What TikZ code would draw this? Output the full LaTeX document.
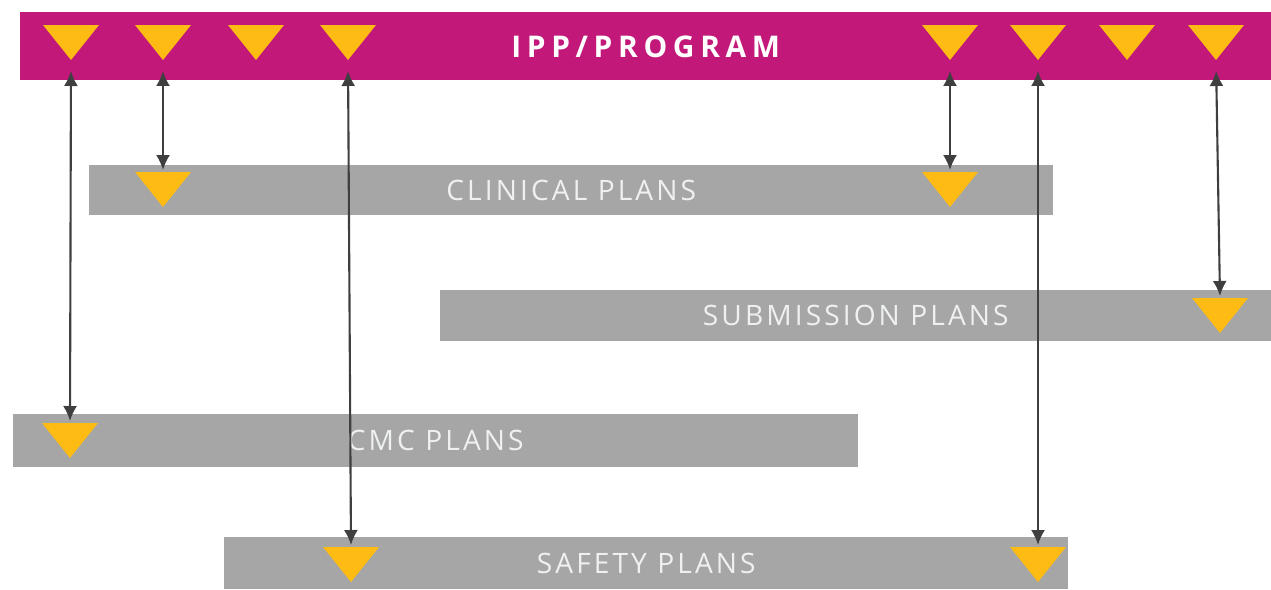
\documentclass[tikz,border=0pt]{standalone}
\usepackage{fontspec}
\setmainfont{Open Sans}
\newfontfamily\planfont[LetterSpace=11]{Open Sans}
\newfontfamily\programfont[LetterSpace=19]{Open Sans}
\usetikzlibrary{arrows.meta}

\definecolor{ippmagenta}{HTML}{C2187A}
\definecolor{markeryellow}{HTML}{FDBB13}
\definecolor{plangray}{HTML}{A6A6A6}
\definecolor{linkgray}{HTML}{3F3F3F}
\definecolor{plantext}{HTML}{EEF0F2}

\tikzset{
	bar/.style={anchor=north west, inner sep=0pt, fill=plangray, text=plantext,
		font=\planfont\fontsize{16}{16}\selectfont},
	marker/.style={fill=markeryellow},
	link/.style={linkgray, line width=1.2pt, <->, >={Latex[length=3mm,width=2.8mm]},
		shorten <=0.22cm, shorten >=0.04cm}
}

\begin{document}
\begin{tikzpicture}[x=0.02cm, y=-0.02cm]
	\useasboundingbox (0,0) rectangle (1271,589);

	% bars
	\node [bar, fill=ippmagenta, text=white, font=\programfont\bfseries\fontsize{17}{17}\selectfont,
		minimum width=25.02cm, minimum height=1.36cm] (ipp) at (20,12) {IPP/PROGRAM};
	\node [bar, minimum width=19.28cm, minimum height=1.0cm] (clinical) at (89,165) {CLINICAL PLANS};
	\node [bar, minimum width=16.62cm, minimum height=1.02cm] (submission) at (440,290) {SUBMISSION PLANS};
	\node [bar, minimum width=16.9cm, minimum height=1.06cm] (cmc) at (13,414) {CMC PLANS};
	\node [bar, minimum width=16.88cm, minimum height=1.04cm] (safety) at (224,537) {SAFETY PLANS};

	% milestones: apex coordinate (\n) and top coordinate (\n-top)
	\foreach \n/\x/\y in {p1/71/25, p2/163/25, p3/256/25, p4/348/25,
		p5/950/25, p6/1038/25, p7/1127/25, p8/1216/25,
		c1/163/172, c2/950/172, s1/1220/298, m1/70/423, f1/351/547, f2/1038/547} {
		\fill [marker] (\x-28,\y) -- (\x+28,\y) -- (\x,\y+35) -- cycle;
		\coordinate (\n) at (\x,\y+35);
		\coordinate (\n-top) at (\x,\y);
	}

	% links between program and plans
	\draw [link] (p1) -- (m1-top);
	\draw [link] (p2) -- (c1-top);
	\draw [link] (p4) -- (f1-top);
	\draw [link] (p5) -- (c2-top);
	\draw [link] (p6) -- (f2-top);
	\draw [link] (p8) -- (s1-top);
\end{tikzpicture}
\end{document}
